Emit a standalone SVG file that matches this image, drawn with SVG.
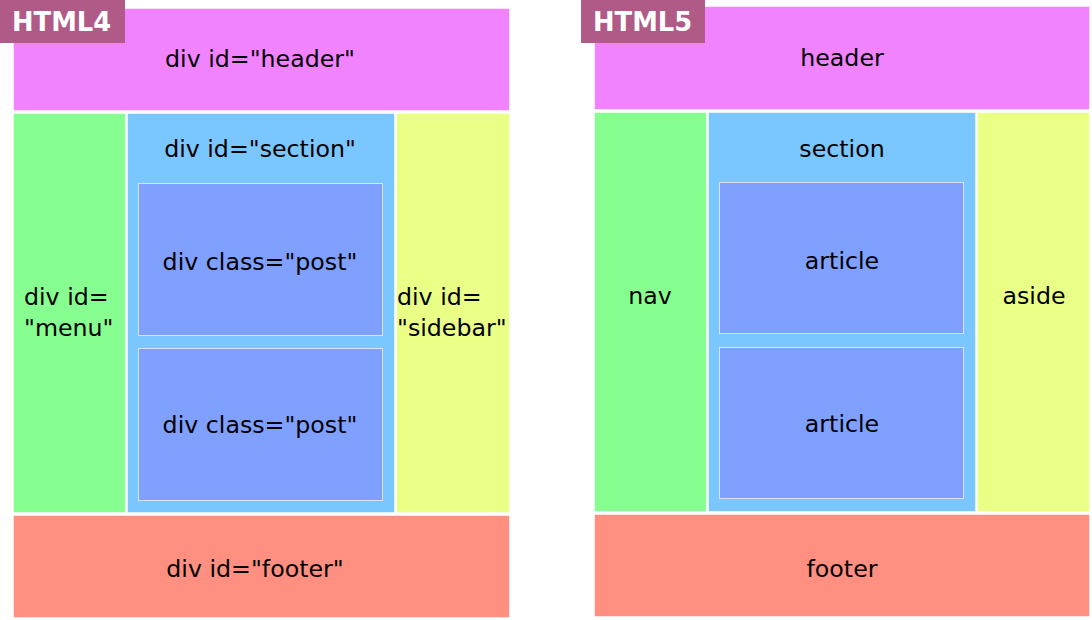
<svg xmlns="http://www.w3.org/2000/svg" width="1092" height="620" viewBox="0 0 1092 620">
<style>
.b{stroke:#ffffff;stroke-width:1.5}
.hd{fill:#f283ff}.nv{fill:#86ff90}.sc{fill:#7ac6ff}.ar{fill:#7fa0ff;stroke:#d8e2ff;stroke-width:1}.sd{fill:#e9ff86}.ft{fill:#ff8f80}
.lb{fill:#b05a87}
text{font-family:"DejaVu Sans",sans-serif;font-size:23.7px;fill:#000}
.c{text-anchor:middle}
.t{font-weight:bold;fill:#ffffff;font-size:25.8px}
</style>
<rect width="1092" height="620" fill="#ffffff"/>
<g id="html4">
<g id="h4-header"><rect class="b hd" x="13" y="8" width="497" height="103"/><text class="c" x="260" y="67">div id="header"</text></g>
<g id="h4-menu"><rect class="b nv" x="13" y="113" width="113" height="400"/><text x="24" y="305">div id=</text><text x="24" y="336">"menu"</text></g>
<g id="h4-section"><rect class="b sc" x="127" y="113" width="268" height="400"/><text class="c" x="260" y="157">div id="section"</text></g>
<g id="h4-post1"><rect class="ar" x="138.5" y="183.5" width="244" height="152"/><text class="c" x="260" y="270">div class="post"</text></g>
<g id="h4-post2"><rect class="ar" x="138.5" y="348.5" width="244" height="152"/><text class="c" x="260" y="433">div class="post"</text></g>
<g id="h4-sidebar"><rect class="b sd" x="396" y="113" width="114" height="400"/><text x="397" y="305">div id=</text><text x="397" y="336">"sidebar"</text></g>
<g id="h4-footer"><rect class="b ft" x="13" y="515" width="497" height="103"/><text class="c" x="255" y="577">div id="footer"</text></g>
<g id="h4-label"><rect class="lb" x="0" y="0" width="125" height="43"/><text class="t" x="12" y="31">HTML4</text></g>
</g>
<g id="html5">
<g id="h5-header"><rect class="b hd" x="594" y="6" width="496" height="104"/><text class="c" x="842" y="66">header</text></g>
<g id="h5-nav"><rect class="b nv" x="594" y="112" width="113" height="400"/><text class="c" x="650" y="304">nav</text></g>
<g id="h5-section"><rect class="b sc" x="708" y="112" width="268" height="400"/><text class="c" x="842" y="157">section</text></g>
<g id="h5-article1"><rect class="ar" x="719.5" y="182.5" width="244" height="151"/><text class="c" x="842" y="269">article</text></g>
<g id="h5-article2"><rect class="ar" x="719.5" y="347.5" width="244" height="151"/><text class="c" x="842" y="432">article</text></g>
<g id="h5-aside"><rect class="b sd" x="977" y="112" width="113" height="400"/><text class="c" x="1034" y="304">aside</text></g>
<g id="h5-footer"><rect class="b ft" x="594" y="514" width="496" height="103"/><text class="c" x="842" y="577">footer</text></g>
<g id="h5-label"><rect class="lb" x="581" y="0" width="124" height="43"/><text class="t" x="593" y="31">HTML5</text></g>
</g>
<g id="connectors"/>
</svg>
